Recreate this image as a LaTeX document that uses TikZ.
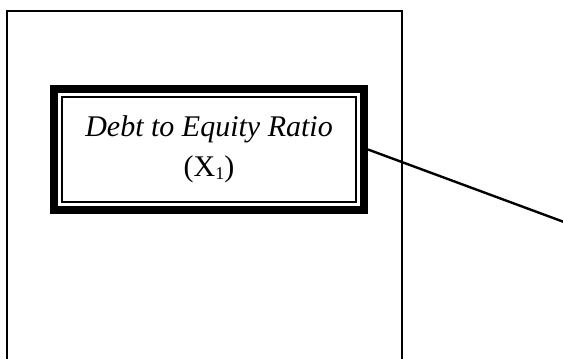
\documentclass[tikz,border=0pt]{standalone}
\usepackage{fontspec}
\setmainfont{Liberation Serif}
\newcommand{\lowsub}[1]{\raisebox{-3pt}{\fontsize{18}{18}\selectfont #1}}
\begin{document}
\begin{tikzpicture}[x=1pt,y=-1pt,
  frame/.style={line width=1.5pt},
  varbox/.style={draw, line width=8pt, minimum width=310pt, minimum height=121pt,
    align=center, inner sep=0pt, font=\fontsize{30}{40}\selectfont},
  innerline/.style={line width=1.5pt},
  link/.style={line width=2.4pt}]
\useasboundingbox (0,0) rectangle (563,359);
\coordinate (fbl) at (6.8,360);
\coordinate (ftl) at (6.8,10.8);
\coordinate (ftr) at (402,10.8);
\coordinate (fbr) at (402,360);
\draw[frame] (fbl) -- (ftl) -- (ftr) -- (fbr);
\node[varbox] (var) at (209,149.5) {\textit{Debt to Equity Ratio}\\(X\lowsub{1})};
\draw[innerline] ([shift={(12,12)}]var.north west) rectangle ([shift={(-12,-12)}]var.south east);
\coordinate (end) at (564,222);
\draw[link] (var.east) -- (end);
\end{tikzpicture}
\end{document}
